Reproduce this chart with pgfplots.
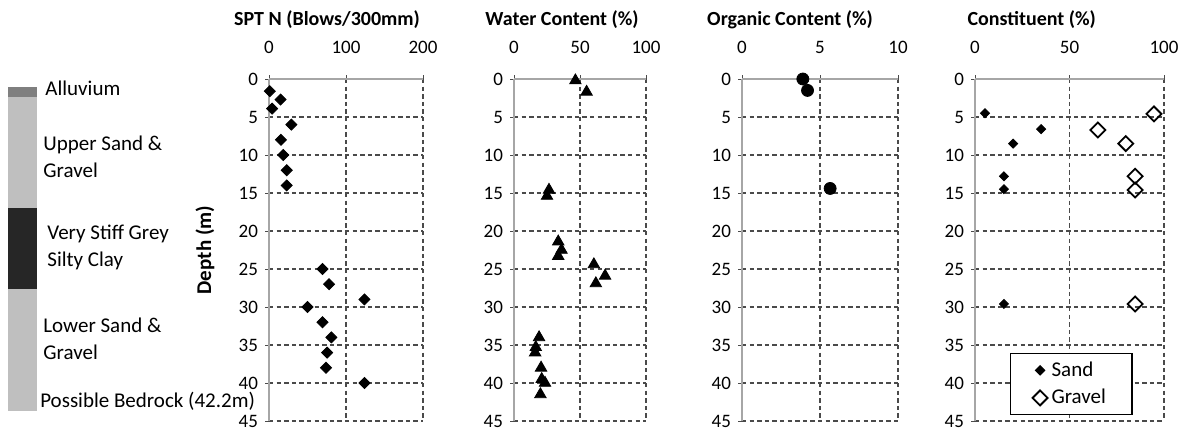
\documentclass[border=0pt]{standalone}
\usepackage{fontspec}
\setmainfont{Carlito}
\usepackage{pgfplots}
\pgfplotsset{compat=1.18}

\definecolor{gridc}{HTML}{4A4A4A}
\definecolor{axc}{HTML}{A6A6A6}
\definecolor{alluv}{HTML}{7F7F7F}
\definecolor{sandgr}{HTML}{BFBFBF}
\definecolor{clay}{HTML}{262626}

\pgfplotsset{
  soilpanel/.style={
    scale only axis, height=171pt, anchor=north west,
    y dir=reverse, ymin=0, ymax=45, ytick={0,5,...,45},
    axis x line*=top, axis y line*=left,
    axis line style={-, draw=axc, line width=0.6pt},
    grid=major,
    major grid style={gridc, dash pattern=on 2.2pt off 1.6pt, line width=0.55pt},
    tick align=outside, major tick length=2pt,
    tick style={gridc, line width=0.5pt},
    ticklabel style={font=\fontsize{9.5}{11}\selectfont},
    /pgf/number format/assume math mode=true,
    xticklabel style={yshift=7pt},
    every axis title/.style={anchor=center, yshift=29.5pt,
      font=\bfseries\fontsize{10}{12}\selectfont},
    clip=false,
  },
}

\begin{document}
\begin{tikzpicture}
\useasboundingbox (0,0) rectangle (594.5pt,-215pt);

% soil column
\begin{axis}[scale only axis, anchor=north west, at={(4pt,-39.5pt)},
  width=14.5pt, height=171pt, xmin=0, xmax=1, ymin=0, ymax=45,
  y dir=reverse, hide axis, clip=false]
\addplot[fill=alluv, draw=none] coordinates {(0,1.0) (1,1.0) (1,2.4) (0,2.4)};
\addplot[fill=sandgr, draw=none] coordinates {(0,2.4) (1,2.4) (1,17.0) (0,17.0)};
\addplot[fill=clay, draw=none] coordinates {(0,17.0) (1,17.0) (1,27.6) (0,27.6)};
\addplot[fill=sandgr, draw=none] coordinates {(0,27.6) (1,27.6) (1,43.7) (0,43.7)};
\begin{scope}[every node/.style={anchor=west, align=left, inner sep=0pt,
    font=\fontsize{10.5}{13.5}\selectfont}]
\node at (axis cs:1.276,1.2) {Alluvium};
\node at (axis cs:1.207,10.2) {Upper Sand \&\\Gravel};
\node at (axis cs:1.345,22.1) {Very Stiff Grey\\Silty Clay};
\node at (axis cs:1.207,34.2) {Lower Sand \&\\Gravel};
\node at (axis cs:1.10,42.4) {Possible Bedrock (42.2m)};
\end{scope}
\end{axis}

% SPT N
\begin{axis}[soilpanel, at={(134.5pt,-39.5pt)}, width=77pt,
  xmin=0, xmax=200, xtick={0,100,200},
  title={SPT N (Blows/300mm)}, title style={at={(axis description cs:0.377,1)}},
  ylabel={Depth (m)},
  every axis y label/.style={at={(axis description cs:-0.416,0.5)}, rotate=90,
    anchor=center, font=\bfseries\fontsize{10.5}{12}\selectfont}]
\addplot[only marks, mark=square*, mark size=1.95pt, mark options={rotate=45, fill=black}, black]
  coordinates {
  (1,1.6) (15,2.7) (4,3.9) (29,6.0) (15.5,8.0) (18.5,10.0) (23,12.0) (23,14.0)
  (69.5,25.0) (78,27.0) (124,29.0) (50,30.0) (69.5,32.0) (81,34.0) (75.5,36.0)
  (74,38.0) (124,40.0)
};
\end{axis}

% Water content
\begin{axis}[soilpanel, at={(257pt,-39.5pt)}, width=66pt,
  xmin=0, xmax=100, xtick={0,50,100},
  title={Water Content (\%)}, title style={at={(axis description cs:0.364,1)}}]
\addplot[only marks, mark=triangle*, mark size=3.3pt, black]
  coordinates {
  (46.5,0.2) (55,1.7) (26.5,14.6) (25,15.4) (33.5,21.4) (36,22.5) (33.5,23.3)
  (60.5,24.4) (69,25.9) (62,26.9) (19,34.0) (16.5,35.3) (16,36.0) (20.5,38.0)
  (21,39.5) (23.5,40.0) (20,41.5)
};
\end{axis}

% Organic content
\begin{axis}[soilpanel, at={(371pt,-39.5pt)}, width=78pt,
  xmin=0, xmax=10, xtick={0,5,10},
  title={Organic Content (\%)}, title style={at={(axis description cs:0.308,1)}}]
\addplot[only marks, mark=*, mark size=3pt, black]
  coordinates {(3.9,0.0) (4.2,1.5) (5.65,14.4)};
\end{axis}

% Constituent
\begin{axis}[soilpanel, at={(487.5pt,-39.5pt)}, width=94.5pt,
  xmin=0, xmax=100, xtick={0,50,100},
  title={Constituent (\%)}, title style={at={(axis description cs:0.30,1)}},
  legend style={at={(axis description cs:0.185,0.199)}, anchor=north west,
    draw=black, line width=0.6pt, inner xsep=11pt, inner ysep=2pt,
    row sep=1pt, font=\fontsize{10.5}{12}\selectfont},
  legend cell align=left]
\addplot[only marks, mark=square*, mark size=1.6pt, mark options={rotate=45, fill=black}, black]
  coordinates {(5.3,4.5) (35,6.6) (20.2,8.5) (15.3,12.8) (15.3,14.5) (15.3,29.6)};
\addlegendentry{Sand}
\addplot[only marks, mark=square, mark size=2.65pt, mark options={rotate=45, fill=white, line width=0.9pt}, black]
  coordinates {(94.7,4.6) (65,6.7) (79.8,8.5) (84.7,12.8) (84.7,14.6) (84.7,29.6)};
\addlegendentry{Gravel}
\end{axis}
\end{tikzpicture}
\end{document}
